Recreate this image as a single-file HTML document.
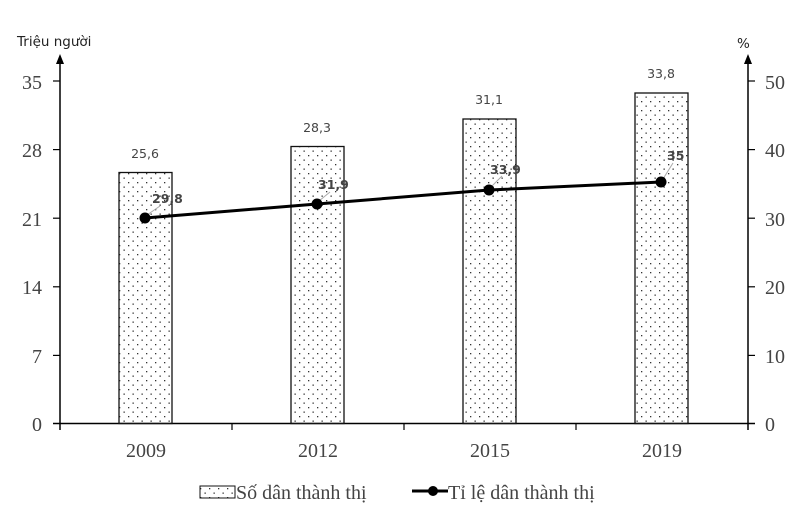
<!DOCTYPE html>
<html><head><meta charset="utf-8"><style>
html,body{margin:0;padding:0;background:#fff;width:804px;height:510px;overflow:hidden}
svg text{font-family:"Liberation Serif",serif;fill:#444}
.s{font-family:"DejaVu Sans","Liberation Sans",sans-serif !important;font-size:12.5px;fill:#444}
</style></head><body>
<svg width="804" height="510" viewBox="0 0 804 510" xmlns="http://www.w3.org/2000/svg">
<defs>
<pattern id="d" width="9" height="9" patternUnits="userSpaceOnUse">
<rect x="2" y="2" width="1.3" height="1.3" fill="#333"/>
<rect x="6.5" y="6.5" width="1.3" height="1.3" fill="#333"/>
</pattern>
</defs>
<text x="17" y="46" class="s" style="font-size:13.5px;fill:#222">Triệu người</text>
<text x="737" y="48" class="s" style="font-size:13.5px;fill:#222">%</text>
<line x1="60" y1="62" x2="60" y2="430" stroke="#000" stroke-width="1.5"/>
<polygon points="60,54 56,64 64,64" fill="#000"/>
<line x1="748" y1="62" x2="748" y2="430" stroke="#000" stroke-width="1.5"/>
<polygon points="748,54 744,64 752,64" fill="#000"/>
<line x1="53" y1="423.5" x2="755" y2="423.5" stroke="#000" stroke-width="1.5"/>
<g stroke="#000" stroke-width="1.2">
<line x1="53" y1="81" x2="60" y2="81"/><line x1="53" y1="149.6" x2="60" y2="149.6"/><line x1="53" y1="218.2" x2="60" y2="218.2"/><line x1="53" y1="286.8" x2="60" y2="286.8"/><line x1="53" y1="355.4" x2="60" y2="355.4"/>
<line x1="748" y1="81" x2="755" y2="81"/><line x1="748" y1="149.6" x2="755" y2="149.6"/><line x1="748" y1="218.2" x2="755" y2="218.2"/><line x1="748" y1="286.8" x2="755" y2="286.8"/><line x1="748" y1="355.4" x2="755" y2="355.4"/>
<line x1="232" y1="423" x2="232" y2="430"/><line x1="404" y1="423" x2="404" y2="430"/><line x1="576" y1="423" x2="576" y2="430"/>
</g>
<g style="font-size:20px" text-anchor="end">
<text x="42" y="89">35</text><text x="42" y="157">28</text><text x="42" y="226">21</text><text x="42" y="294">14</text><text x="42" y="363">7</text><text x="42" y="431">0</text>
</g>
<g style="font-size:20px">
<text x="765" y="89">50</text><text x="765" y="157">40</text><text x="765" y="226">30</text><text x="765" y="294">20</text><text x="765" y="363">10</text><text x="765" y="431">0</text>
</g>
<g style="font-size:20px" text-anchor="middle">
<text x="146" y="457">2009</text><text x="318" y="457">2012</text><text x="490" y="457">2015</text><text x="662" y="457">2019</text>
</g>
<g stroke="#111" stroke-width="1.3">
<rect x="119" y="172.5" width="53" height="251" fill="url(#d)"/>
<rect x="291" y="146.5" width="53" height="277" fill="url(#d)"/>
<rect x="463" y="119" width="53" height="304.5" fill="url(#d)"/>
<rect x="635" y="93" width="53" height="330.5" fill="url(#d)"/>
</g>
<text x="145" y="158" class="s" text-anchor="middle">25,6</text>
<text x="317" y="132" class="s" text-anchor="middle">28,3</text>
<text x="489" y="104" class="s" text-anchor="middle">31,1</text>
<text x="661" y="78" class="s" text-anchor="middle">33,8</text>
<polyline points="145,218 317,204 489,190 661,182" fill="none" stroke="#000" stroke-width="3"/>
<g stroke="#aaa" stroke-width="1"><line x1="147" y1="215" x2="160" y2="206"/><line x1="319" y1="201" x2="330" y2="192"/><line x1="491" y1="187" x2="502" y2="176"/><line x1="663" y1="179" x2="673" y2="163"/></g>
<g fill="#000"><circle cx="145" cy="218" r="5.5"/><circle cx="317" cy="204" r="5.5"/><circle cx="489" cy="190" r="5.5"/><circle cx="661" cy="182" r="5.5"/></g>
<text x="152" y="203" class="s" style="font-weight:bold">29,8</text>
<text x="318" y="189" class="s" style="font-weight:bold">31,9</text>
<text x="490" y="174" class="s" style="font-weight:bold">33,9</text>
<text x="667" y="160" class="s" style="font-weight:bold">35</text>
<rect x="200" y="486" width="35" height="12" fill="url(#d)" stroke="#111" stroke-width="1"/>
<text x="236" y="499" style="font-size:20px">Số dân thành thị</text>
<line x1="412" y1="491" x2="448" y2="491" stroke="#000" stroke-width="3"/>
<circle cx="433" cy="491" r="5" fill="#000"/>
<text x="448" y="499" style="font-size:20px">Tỉ lệ dân thành thị</text>
</svg>
</body></html>
